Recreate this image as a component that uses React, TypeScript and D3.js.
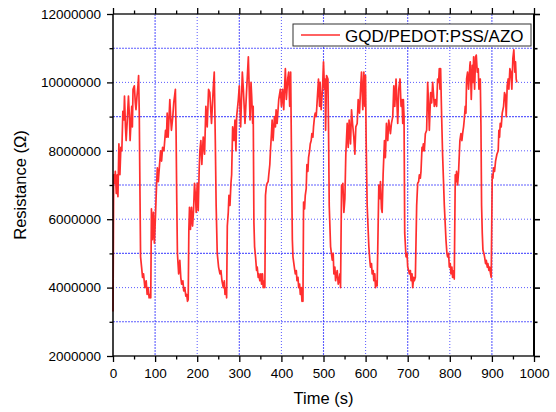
import React, { useRef, useEffect } from "react";
import * as d3 from "d3";

// readings taken off the plot: time in s, resistance in MΩ
const timeS = [
  0, 1.0, 1.6, 3.9, 5.5, 7.8, 10.1, 11.7, 14, 16.4, 18.7, 21, 23.4, 25.7, 27.3, 29.6, 31.2, 33.5, 36.7, 39,
  40.6, 44.5, 46, 47.6, 50.7, 53, 54.6, 57, 59.3, 60.8, 62.4, 64, 65.5, 67.9, 70.2, 72.5, 75.7, 78.8, 81.1, 83.5,
  85.8, 88.1, 89.7, 91.3, 93.6, 96, 98.3, 100.6, 103, 105.3, 107.6, 110, 113, 115.4, 117.8, 121, 124.8, 127, 128.7, 131,
  135, 137.3, 138.8, 142, 144.3, 148.2, 149.8, 151.5, 153, 156, 158.7, 161, 163, 166, 168, 170.5, 173, 175, 177, 178.6,
  180.2, 181.7, 184, 186.5, 189, 191.3, 193.6, 196, 197.6, 200, 202.4, 204.8, 206.4, 208.7, 211, 214.3, 217.5, 220.6, 223.8, 227,
  230, 234, 238, 240.5, 243, 245, 247.6, 250.8, 254, 256.4, 258.8, 262, 264.3, 266, 268.3, 269.9,
  271.5, 273.8, 275.4, 277.8, 280.2, 281.8, 284.2, 287.3, 289.7, 292, 293.7, 297.7, 300, 303.2, 307.2, 309.6, 313.5, 317.5, 321.5, 325.5,
  327.8, 329.4, 331.8, 333, 334.7, 336.3, 338.6, 341, 342.6, 344.9, 346.5, 348.8, 351.2, 352.8, 355.1, 356.7, 359, 360.7,
  362.2, 364.6, 366.2, 368.5, 370, 372.5, 374, 376.4, 378, 380.3, 383.5, 385.8, 387.4, 389.8, 393.7, 397.6, 400, 403, 405.5, 409.4,
  411.8, 415, 417.3, 419.7, 422, 423.6, 426, 427.5, 430.7, 433, 435.4, 437, 439.4, 441, 443.3, 444.9, 447.2, 448.8, 450.4, 451.2,
  452.7, 455, 456.7, 459, 460.6, 463, 464.5, 466.9, 468.5, 470.8, 472.4, 474.8, 476.3, 478.7, 480.3, 482.6, 484.2, 488.1, 490.6, 492,
  494.4, 497.6, 500, 502.3, 503.9, 505, 507.3, 510.5, 512, 513.6, 516.8, 520.8, 523, 524.7, 527, 528.7, 531, 532.6, 535, 536.6,
  539, 540.5, 542.9, 544.5, 546, 548.4, 550.8, 553, 556.3, 558.7, 561, 564.2, 566.6, 569, 572, 574.5, 576.8, 580, 582.4, 585.5,
  588, 590.3, 593.4, 595.8, 598, 599.8, 601.3, 603.7, 607.7, 610, 611.6, 614, 615.6, 618, 619.5, 621.9, 623.5, 625.8, 627.4,
  631.4, 633.7, 635.3, 637.7, 639.3, 641.6, 644.8, 647, 649.5, 652.7, 655, 659, 661.4, 664.5, 667, 669.3, 672.3, 676.3, 678.7, 681.8,
  684.2, 686.6, 688.2, 689.7, 691.3, 692.9, 696, 698.4, 700, 702.4, 704, 706.3, 708, 710.3, 711.9, 714.2, 715.8, 718.2,
  721.3, 723.7, 726, 727.7, 730, 731.6, 734, 735.6, 737.1, 739.5, 741.9, 745, 747.4, 749.8, 751.4, 754.5, 756.9, 759.3, 761.6, 763.2,
  765.6, 768.7, 771.1, 773.5, 775, 776.6, 778.2, 780.6, 783, 787, 790.9, 793.2, 794.8, 797.2, 798.8, 801.1, 802.7, 805, 806.7, 809, 810.6,
  813, 814.6, 816.1, 818.5, 820.9, 824, 826.4, 828.8, 830.4, 832.7, 834.3, 836.7, 838.3, 839.9, 842.2, 844.6, 847.7, 848.6, 851, 853.4,
  855, 856.6, 858.9, 861.3, 862.9, 865.2, 867.6, 869.2, 872.4, 874, 875.5, 877.1, 878.7, 881, 882.6, 885, 886.6, 889, 890.5, 892.9,
  894.5, 896.8, 898.4, 900.8, 902.4, 904, 906.3, 908.7, 911.9, 915, 916.6, 918.2, 919.8, 922.1, 924.5, 927.7, 930, 932.4, 934, 936.3,
  938.7, 940.3, 942.7, 945, 947.4, 949.8, 952.1, 954.5, 956.1, 957.7, 959.3,
];

const resistanceM = [
  3.3, 5.5, 7.3, 7.05, 7.4, 6.75, 7.3, 6.66, 8.2, 7.3, 8.1, 8.0, 9.15, 8.9, 9.6, 8.7, 8.3, 8.8, 9.6, 9.0,
  8.3, 9.3, 8.7, 9.8, 9.9, 9.4, 9.2, 9.6, 9.9, 10.2, 9.1, 6.85, 4.9, 4.6, 4.3, 4.4, 4.0, 4.2, 3.8, 4.0,
  3.7, 3.8, 3.7, 6.3, 5.4, 6.2, 5.3, 6.0, 6.85, 7.5, 7.1, 7.5, 8.0, 7.7, 8.1, 8.0, 8.6, 8.4, 9.1, 8.4,
  9.5, 8.9, 8.6, 9.0, 9.4, 9.8, 8.6, 6.5, 5.0, 4.4, 4.8, 4.3, 4.1, 4.2, 3.9, 4.0, 3.75, 3.8, 3.6, 3.65,
  5.7, 6.35, 5.7, 6.35, 5.8, 6.25, 7.05, 6.65, 6.2, 7.05, 6.25, 7.5, 8.0, 8.3, 7.6, 8.4, 7.9, 9.3, 8.7, 9.8,
  9.7, 8.8, 9.8, 10.3, 8.3, 6.4, 5.0, 4.6, 4.4, 4.5, 4.2, 4.0, 4.2, 3.8, 4.0, 3.7,
  5.8, 6.2, 6.7, 6.4, 7.05, 7.3, 8.7, 8.3, 8.9, 8.0, 9.0, 9.5, 9.9, 8.7, 10.3, 9.8, 8.8, 9.8, 10.75, 8.9,
  10.0, 9.6, 8.8, 9.3, 5.9, 5.2, 4.9, 4.5, 4.6, 4.3, 4.4, 4.2, 4.4, 4.1, 4.4, 4.0, 4.2, 4.0,
  6.7, 7.0, 7.05, 7.1, 7.3, 7.6, 8.0, 8.5, 8.9, 8.3, 9.0, 8.7, 9.2, 8.8, 9.5, 9.8, 9.3, 9.8, 9.2, 10.4,
  9.5, 10.1, 10.3, 9.3, 10.3, 8.3, 5.4, 4.9, 4.6, 4.4, 4.5, 4.2, 4.3, 4.0, 4.1, 3.8, 4.0, 3.6, 3.8, 3.6,
  6.5, 6.3, 6.7, 6.9, 7.6, 7.4, 7.8, 8.0, 8.2, 8.3, 8.5, 8.4, 8.7, 9.0, 9.1, 9.0, 9.3, 10.1, 9.3, 10.0,
  9.2, 9.8, 10.6, 9.8, 10.1, 8.6, 10.2, 10.1, 8.6, 6.4, 5.2, 4.8, 5.0, 4.4, 4.6, 4.2, 4.4, 4.5, 4.1, 4.2,
  4.4, 4.0, 7.0, 6.8, 7.05, 6.2, 6.6, 7.9, 8.8, 8.1, 8.9, 8.2, 9.2, 8.8, 8.4, 7.9, 8.7, 8.8, 9.5, 9.1,
  9.8, 10.3, 9.2, 10.3, 9.3, 10.2, 8.3, 6.4, 5.2, 4.8, 4.6, 4.7, 4.4, 4.5, 4.2, 4.4, 4.0, 4.2, 4.05,
  7.0, 6.6, 7.1, 6.3, 6.2, 7.3, 8.3, 7.8, 8.8, 8.3, 8.9, 8.5, 8.8, 9.0, 9.9, 9.3, 10.1, 8.8, 9.8, 10.1,
  9.3, 9.5, 8.8, 9.5, 9.0, 5.6, 4.9, 5.0, 4.6, 4.5, 4.4, 4.5, 4.2, 4.4, 4.0, 4.3, 4.2, 4.3,
  6.4, 7.05, 7.1, 7.3, 7.2, 7.4, 8.1, 8.0, 8.2, 8.0, 8.5, 8.6, 10.0, 9.3, 8.6, 9.7, 9.4, 10.0, 9.6, 9.3,
  9.5, 9.3, 10.1, 10.0, 10.4, 9.8, 10.4, 9.0, 7.85, 6.4, 5.4, 5.0, 4.9, 5.0, 4.6, 4.7, 4.4, 4.6, 4.3, 4.5, 4.25,
  7.3, 7.1, 7.4, 7.0, 7.4, 8.3, 8.5, 8.3, 8.5, 8.7, 8.9, 9.3, 9.1, 10.1, 10.3, 9.8, 10.5, 10.6, 9.5, 10.5,
  10.0, 10.75, 9.8, 10.75, 10.8, 10.3, 10.4, 9.8, 10.1, 8.7, 6.4, 5.6, 5.1, 5.0, 4.9, 4.7, 4.8, 4.6, 4.7, 4.5,
  4.6, 4.4, 4.3, 7.3, 7.2, 7.5, 7.4, 7.7, 7.9, 8.0, 8.6, 8.4, 8.8, 8.7, 9.1, 9.3, 9.7, 9.6, 9.0, 9.9,
  10.1, 9.8, 10.4, 10.3, 9.8, 10.7, 10.95, 10.3, 10.6, 10.1, 10.0,
];

const xMajorTicks = [0, 100, 200, 300, 400, 500, 600, 700, 800, 900, 1000];
const yMajorTicks = [2000000, 4000000, 6000000, 8000000, 10000000, 12000000];
const seriesName = "GQD/PEDOT:PSS/AZO";

const W = 556;
const H = 412;
const margin = { left: 113, right: 22, top: 14, bottom: 56 };
const FONT = "'Liberation Sans', Arial, sans-serif";

export default function App() {
  const bottomRef = useRef<SVGGElement>(null);
  const leftRef = useRef<SVGGElement>(null);
  const topRef = useRef<SVGGElement>(null);
  const rightRef = useRef<SVGGElement>(null);

  const x = d3.scaleLinear().domain([0, 1000]).range([margin.left, W - margin.right]);
  const y = d3.scaleLinear().domain([2000000, 12000000]).range([H - margin.bottom, margin.top]);

  const xMinor = d3.range(0, 1001, 50).filter((t) => t % 100 !== 0);
  const yMinor = d3.range(3000000, 12000000, 2000000);
  const xGrid = d3.range(100, 1000, 100);
  const yGrid = d3.range(3000000, 12000000, 1000000);

  const points = timeS.map((t, i) => [t, resistanceM[i] * 1e6] as [number, number]);
  const line = d3
    .line<[number, number]>()
    .x((d) => x(d[0]))
    .y((d) => y(d[1]));

  useEffect(() => {
    const style = (g: d3.Selection<SVGGElement, unknown, null, undefined>, w: number) => {
      g.select(".domain").remove();
      g.selectAll(".tick line").attr("stroke", "#000").attr("stroke-width", w);
      g.selectAll(".tick text")
        .attr("fill", "#000")
        .style("font-family", FONT)
        .style("font-size", "13.5px");
    };

    const b = d3.select(bottomRef.current!);
    b.selectAll("*").remove();
    b.append("g").call(d3.axisBottom(x).tickValues(xMajorTicks).tickSize(6).tickPadding(6).tickFormat(d3.format("d")))
      .call((g) => style(g, 1.3));
    b.append("g").call(d3.axisBottom(x).tickValues(xMinor).tickSize(3.5).tickFormat(() => ""))
      .call((g) => style(g, 1.3));

    const l = d3.select(leftRef.current!);
    l.selectAll("*").remove();
    l.append("g").call(d3.axisLeft(y).tickValues(yMajorTicks).tickSize(6).tickPadding(6).tickFormat(d3.format("d")))
      .call((g) => style(g, 1.3));
    l.append("g").call(d3.axisLeft(y).tickValues(yMinor).tickSize(3.5).tickFormat(() => ""))
      .call((g) => style(g, 1.3));

    const t = d3.select(topRef.current!);
    t.selectAll("*").remove();
    t.append("g").call(d3.axisTop(x).tickValues(xMajorTicks).tickSize(6).tickFormat(() => ""))
      .call((g) => style(g, 1.3));
    t.append("g").call(d3.axisTop(x).tickValues(xMinor).tickSize(3.5).tickFormat(() => ""))
      .call((g) => style(g, 1.3));

    const r = d3.select(rightRef.current!);
    r.selectAll("*").remove();
    r.append("g").call(d3.axisRight(y).tickValues(yMajorTicks).tickSize(6).tickFormat(() => ""))
      .call((g) => style(g, 1.6));
    r.append("g").call(d3.axisRight(y).tickValues(yMinor).tickSize(3.5).tickFormat(() => ""))
      .call((g) => style(g, 1.6));
  }, []);

  const x0 = margin.left;
  const x1 = W - margin.right;
  const y0 = H - margin.bottom;
  const y1 = margin.top;

  return (
    <svg
      width={W}
      height={H}
      style={{ position: "absolute", left: 0, top: 0, background: "#fff" }}
    >
      {/* grid */}
      <g>
        {xGrid.map((t) => (
          <line
            key={"gx" + t}
            x1={x(t)}
            x2={x(t)}
            y1={y1}
            y2={y0}
            stroke="#2828ff"
            strokeWidth={t % 200 === 100 ? 1.1 : 0.9}
            strokeDasharray={t % 200 === 100 ? "2,1" : "1,2"}
            opacity={t % 200 === 100 ? 0.75 : 0.85}
          />
        ))}
        {yGrid.map((v) => (
          <line
            key={"gy" + v}
            x1={x0}
            x2={x1}
            y1={y(v)}
            y2={y(v)}
            stroke="#2828ff"
            strokeWidth={v % 2000000 === 1000000 ? 1.1 : 0.9}
            strokeDasharray={v % 2000000 === 1000000 ? "2,1" : "1,2"}
            opacity={v % 2000000 === 1000000 ? 0.75 : 0.85}
          />
        ))}
      </g>

      <path
        d={line(points) ?? ""}
        fill="none"
        stroke="#ff2e2e"
        strokeWidth={1.7}
        strokeLinejoin="round"
      />

      {/* frame */}
      <line x1={x0} x2={x1} y1={y0} y2={y0} stroke="#222" strokeWidth={1.5} />
      <line x1={x0} x2={x1} y1={y1} y2={y1} stroke="#222" strokeWidth={1.5} />
      <line x1={x0} x2={x0} y1={y1} y2={y0} stroke="#000" strokeWidth={1.5} />
      <line x1={x1} x2={x1} y1={y1} y2={y0} stroke="#000" strokeWidth={2} />

      <g ref={bottomRef} transform={`translate(0,${y0})`} />
      <g ref={leftRef} transform={`translate(${x0},0)`} />
      <g ref={topRef} transform={`translate(0,${y1})`} />
      <g ref={rightRef} transform={`translate(${x1},0)`} />

      {/* legend */}
      <g>
        <rect x={293} y={24} width={238} height={22} fill="#fff" stroke="#333" strokeWidth={1} />
        <line x1={301} x2={340} y1={35} y2={35} stroke="#ff2e2e" strokeWidth={1.7} />
        <text x={345} y={42} fontFamily={FONT} fontSize={17} fill="#000">
          {seriesName}
        </text>
      </g>

      <text
        x={(x0 + x1) / 2}
        y={404}
        textAnchor="middle"
        fontFamily={FONT}
        fontSize={16.5}
        fill="#000"
      >
        Time (s)
      </text>
      <text
        transform={`translate(26,${(y0 + y1) / 2}) rotate(-90)`}
        textAnchor="middle"
        fontFamily={FONT}
        fontSize={16.5}
        fill="#000"
      >
        Resistance (Ω)
      </text>
    </svg>
  );
}
